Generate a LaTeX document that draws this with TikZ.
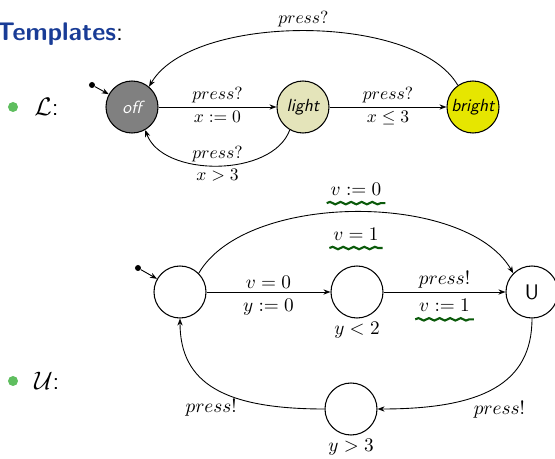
\documentclass[tikz,border=0pt]{standalone}
\usepackage{amsmath,amssymb}
\usetikzlibrary{arrows.meta,decorations.pathmorphing}
\definecolor{titleblue}{RGB}{25,60,150}
\definecolor{bulletgreen}{RGB}{95,190,95}
\definecolor{offgray}{RGB}{128,128,128}
\definecolor{lightbeige}{RGB}{228,228,186}
\definecolor{brightyellow}{RGB}{230,230,0}
\definecolor{wavegreen}{RGB}{10,90,10}
\tikzset{locstate/.style={circle,draw,line width=0.6pt,minimum size=1.04cm,
    inner sep=0pt,font=\sffamily\itshape}}
\tikzset{initdot/.style={circle,fill,inner sep=0pt,minimum size=1.2mm}}
\tikzset{transline/.style={line width=0.5pt,-{Stealth[length=4pt,width=3pt]}}}
\tikzset{guardlabel/.style={font=\fontsize{10}{12}\selectfont,inner sep=2pt}}
\tikzset{guardlabelU/.style={font=\fontsize{11}{13}\selectfont,inner sep=2pt}}
\tikzset{wavyline/.style={wavegreen,line width=1.2pt,decorate,decoration={
    snake,amplitude=0.7pt,segment length=6pt}}}
\tikzset{itembullet/.style={circle,fill=bulletgreen,inner sep=0pt,minimum size=2mm}}
\tikzset{itemtext/.style={anchor=west,inner sep=0pt,font=\sffamily\fontsize{14}{16}\selectfont}}

\begin{document}
\begin{tikzpicture}

\pgfmathsetmacro{\yL}{-2.14}
\pgfmathsetmacro{\yU}{-5.84}

\useasboundingbox (0,0) rectangle (11.1,-9.18);

%   見出し
\node[anchor=base west,inner sep=0pt,text=titleblue,
    font=\sffamily\bfseries\fontsize{14.5}{16}\selectfont] (title) at (-0.08,-0.80)
    {Templates\textcolor{black}{\mdseries:}};

%   上のテンプレート
\node[itembullet] (bulL) at (0.26,\yL) {};
\node[itemtext] (itemL) at (0.68,\yL) {$\mathcal{L}$:};

\node[locstate,fill=offgray,text=white] (off) at (2.64,\yL) {off};
\node[locstate,fill=lightbeige] (light) at (6.06,\yL) {light};
\node[locstate,fill=brightyellow] (bright) at (9.46,\yL) {bright};
\node[initdot] (initL) at (1.84,-1.70) {};

\draw[transline] (initL) -- (off);
\draw[transline] (off) -- node[guardlabel,above]{$press?$}
    node[guardlabel,below]{$x:=0$} (light);
\draw[transline] (light) -- node[guardlabel,above]{$press?$}
    node[guardlabel,below]{$x\le 3$} (bright);
\draw[transline]
    (bright.125) to[out=120,in=60,looseness=0.7]
    node[guardlabel,above]{$press?$} (off.50);
\draw[transline]
    (light.240) to[out=-110,in=-70,looseness=0.9]
    node[guardlabel,above]{$press?$} node[guardlabel,below]{$x>3$} (off.300);

%   下のテンプレート
\node[itembullet] (bulU) at (0.26,-7.62) {};
\node[itemtext] (itemU) at (0.68,-7.62) {$\mathcal{U}$:};

\node[locstate] (u0) at (3.60,\yU) {};
\node[locstate] (u1) at (7.14,\yU) {};
\node[locstate,font=\sffamily\large] (uu) at (10.64,\yU) {U};
\node[locstate] (u3) at (7.02,-8.18) {};
\node[initdot] (initU) at (2.76,-5.36) {};

\node[guardlabelU,below] (inv1) at (u1.south) {$y<2$};
\node[guardlabelU,below] (inv3) at (u3.south) {$y>3$};

\draw[transline] (initU) -- (u0);
\draw[transline] (u0) -- node[guardlabelU,above]{$v=0$}
    node[guardlabelU,below=2pt]{$y:=0$} (u1);
\draw[transline] (u1) -- node[guardlabelU,above]{$press!$}
    node[guardlabelU,below=2pt] (upd1) {$v:=1$} (uu);
\draw[transline]
    (u0.45) to[out=60,in=120,looseness=0.77]
    node[guardlabelU,above=7pt] (upd0) {$v:=0$}
    node[guardlabelU,below=7pt] (grd1) {$v=1$} (uu.135);
\draw[transline]
    (uu.south)..controls +(0,-1.3) and +(2.1,0)..(u3.east)
    node[guardlabelU,pos=0.5,below=5pt,xshift=3pt] {$press!$};
\draw[transline]
    (u3.west)..controls +(-2.0,0) and +(0,-1.3)..(u0.south)
    node[guardlabelU,pos=0.5,below=4pt,xshift=-2pt] {$press!$};

%   波線の下線
\draw[wavyline] ([yshift=-2pt]upd0.south west) -- ([yshift=-2pt]upd0.south east);
\draw[wavyline] ([yshift=-2pt]grd1.south west) -- ([yshift=-2pt]grd1.south east);
\draw[wavyline] ([yshift=-2pt]upd1.south west) -- ([yshift=-2pt]upd1.south east);

\end{tikzpicture}
\end{document}
